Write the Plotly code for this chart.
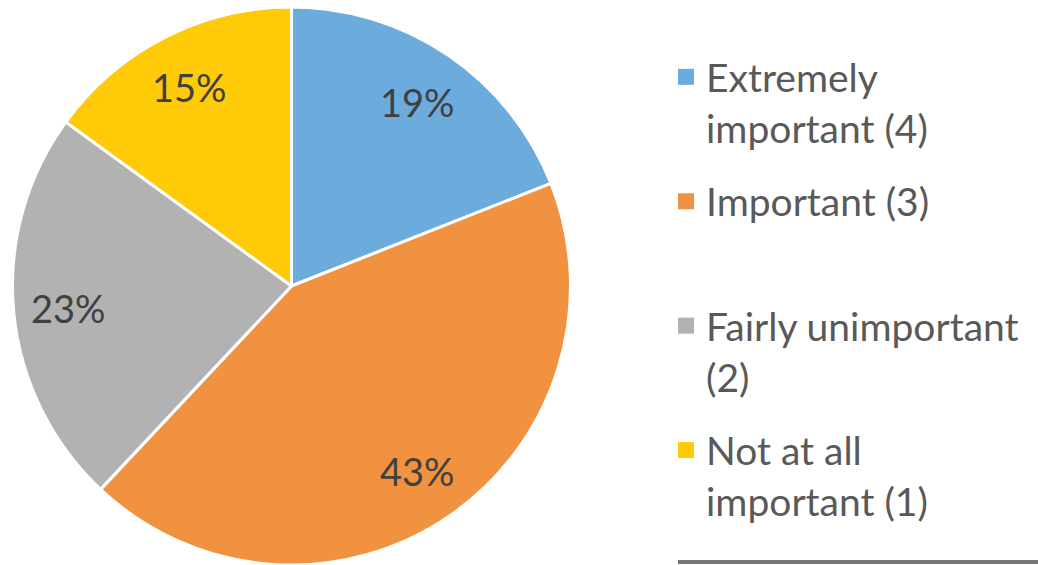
import math
import plotly.graph_objects as go

labels = ["Extremely<br>important (4)", "Important (3)", "Fairly unimportant<br>(2)", "Not at all<br>important (1)"]
values = [19, 43, 23, 15]
colors = ["#6CACDD", "#F19241", "#B2B2B2", "#FFCA08"]

W, H = 1038, 565
FONT = "Lato"

# pie domain (pixels)
dom_x = (12, 571)
dom_y_top = 7

fig = go.Figure()
fig.add_trace(go.Pie(
    labels=labels, values=values, sort=False, direction="clockwise", rotation=0,
    marker=dict(colors=colors, line=dict(color="white", width=3)),
    textinfo="none", hoverinfo="label+percent", showlegend=False,
    domain=dict(x=[dom_x[0] / W, dom_x[1] / W], y=[0, 1 - dom_y_top / H]),
))

# legend entries (one group each for even spacing)
for i, (lab, col) in enumerate(zip(labels, colors)):
    fig.add_trace(go.Scatter(
        x=[None], y=[None], mode="markers", name=lab if "<br>" in lab else lab + "<br> ",
        marker=dict(symbol="square", size=16, color=col),
        legendgroup=str(i), showlegend=True,
    ))

# percentage labels placed from the data
R = (dom_x[1] - dom_x[0]) / 2
cx = (dom_x[0] + dom_x[1]) / 2
cy = dom_y_top + R
total = sum(values)
cum = 0
for v in values:
    f = (cum + v / 2) / total
    cum += v
    th = 2 * math.pi * f
    r = 0.80 * R
    x = cx + r * math.sin(th)
    y = cy - r * math.cos(th)
    fig.add_annotation(x=x / W, y=1 - y / H, xref="paper", yref="paper",
                       xanchor="center", yanchor="middle",
                       text=f"{round(100 * v / total)}%", showarrow=False,
                       font=dict(family=FONT, size=38, color="#404040"))

fig.add_shape(type="line", xref="paper", yref="paper",
              x0=678 / W, x1=1, y0=1 - 562 / H, y1=1 - 562 / H,
              line=dict(color="#767676", width=4))

fig.update_layout(
    width=W, height=H, margin=dict(l=0, r=0, t=0, b=0),
    paper_bgcolor="white", plot_bgcolor="white",
    xaxis=dict(visible=False), yaxis=dict(visible=False),
    legend=dict(x=666 / W, xanchor="left", y=1 - 45 / H, yanchor="top",
                font=dict(family=FONT, size=39, color="#595959"),
                valign="top", traceorder="grouped", tracegroupgap=20,
                bgcolor="rgba(0,0,0,0)", borderwidth=0),
)

fig.write_html("out.html", config={"displayModeBar": False},
               post_script="document.body.style.margin='0';")
